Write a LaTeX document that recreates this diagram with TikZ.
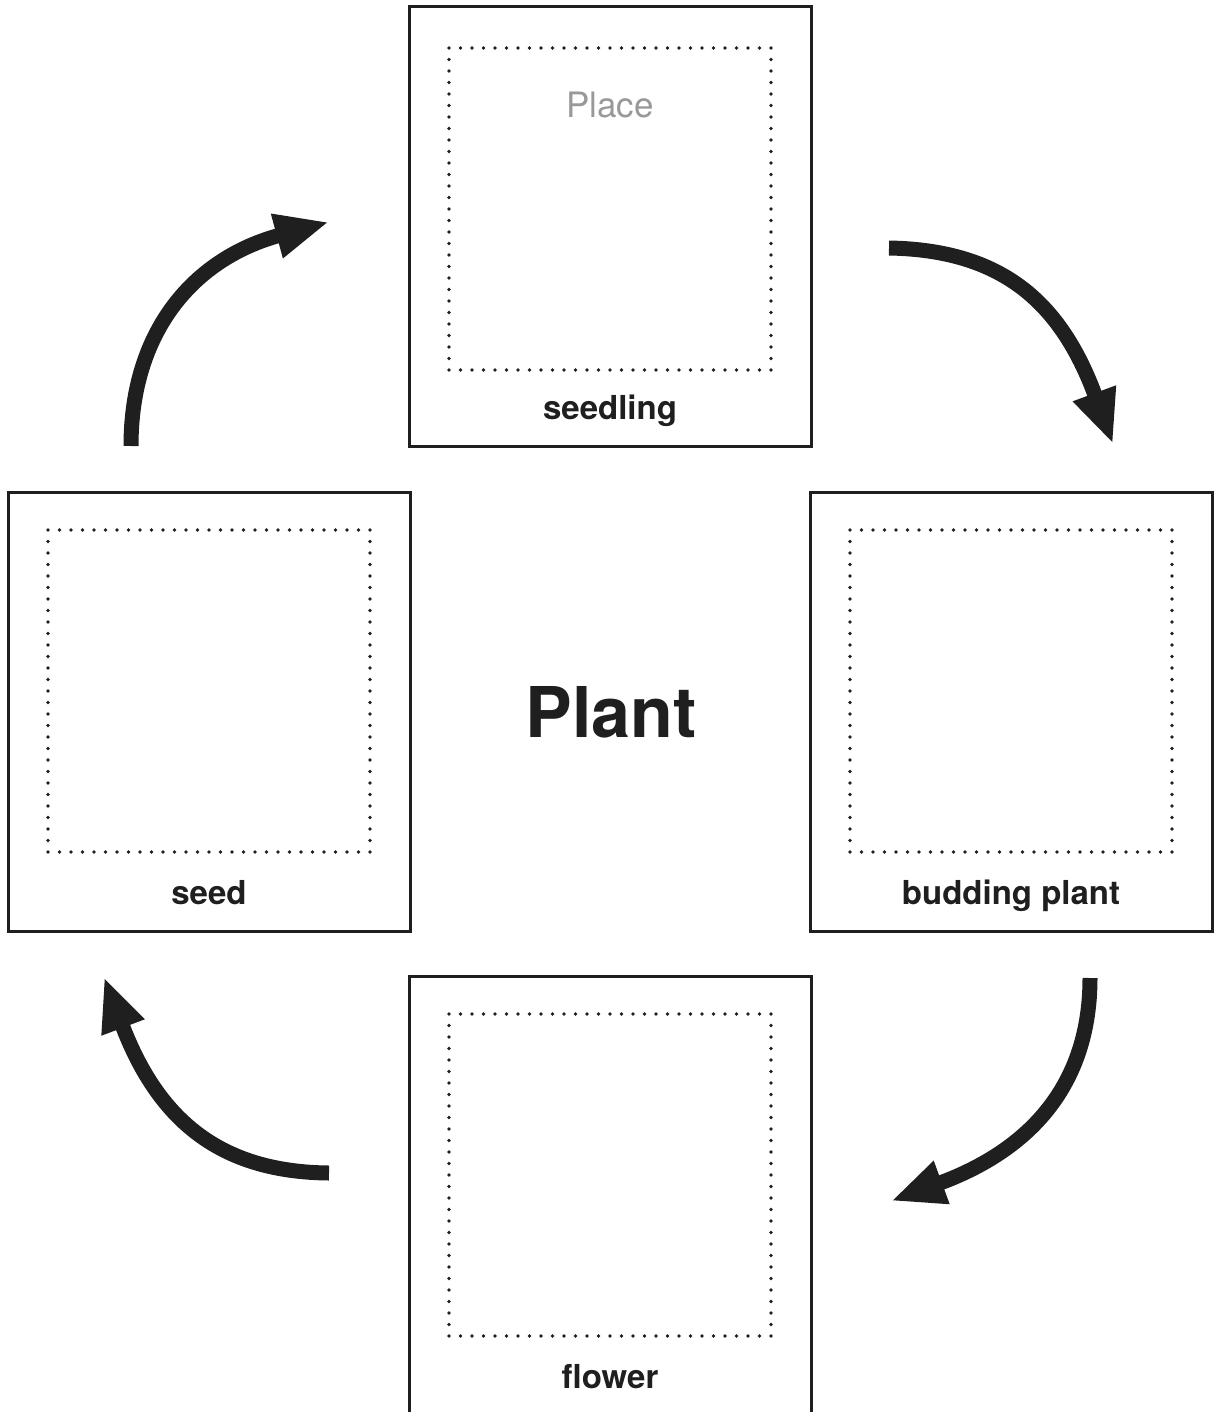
\documentclass[tikz,border=0pt]{standalone}
\usepackage{fontspec}
\setmainfont{TeX Gyre Heros}
\usetikzlibrary{arrows.meta}

\definecolor{ink}{HTML}{1F1F1F}
\definecolor{hintgray}{HTML}{999999}

\begin{document}
\begin{tikzpicture}[
    x=0.5pt, y=-0.5pt,
    stage/.style={rectangle, draw=ink, line width=1.5pt, minimum width=201pt, minimum height=219.5pt, outer sep=0pt, inner sep=0pt},
    slot/.style={rectangle, draw=ink, line width=1.9pt, line cap=round, dash pattern=on 0pt off 5.75pt, minimum width=161pt, minimum height=161pt, outer sep=0pt, inner sep=0pt, anchor=north},
    caption/.style={font=\bfseries\fontsize{16.5}{18}\selectfont, text=ink, anchor=base, inner sep=0pt},
    hint/.style={font=\fontsize{17.5}{20}\selectfont, text=hintgray, anchor=base, inner sep=0pt},
    flow/.style={draw=ink, line width=7.5pt, -{Triangle[length=27pt, width=21pt]}}
]
\useasboundingbox (0,0) rectangle (1215,1412);

% The four stages around the cycle
\node[stage] (seedling) at (610,226.5) {};
\node[stage] (seed) at (209,711.5) {};
\node[stage] (budding) at (1011,711.5) {};
\node[stage] (flower) at (610,1195.5) {};

% Dotted places for the pictures
\node[slot] (seedlingslot) at ([yshift=-20.5pt]seedling.north) {};
\node[slot] (seedslot) at ([yshift=-19pt]seed.north) {};
\node[slot] (buddingslot) at ([yshift=-19pt]budding.north) {};
\node[slot] (flowerslot) at ([yshift=-19pt]flower.north) {};

\node[hint] (place) at ([yshift=-35pt]seedlingslot.north) {Place};

% Stage names
\node[caption] (seedlingname) at ([yshift=13.5pt]seedling.south) {seedling};
\node[caption] (seedname) at ([yshift=13.5pt]seed.south) {seed};
\node[caption] (buddingname) at ([yshift=13.5pt]budding.south) {budding plant};
\node[caption] (flowername) at ([yshift=13.5pt]flower.south) {flower};

% Title in the middle
\node[font=\bfseries\fontsize{35}{40}\selectfont, text=ink, anchor=base, inner sep=0pt] (title) at (611,737) {Plant};

% Arrow ends
\coordinate (seedout) at (131,446);
\coordinate (seedlingin) at (329,222);
\coordinate (seedlingout) at (889,248);
\coordinate (buddingin) at (1113,444);
\coordinate (buddingout) at (1090,978);
\coordinate (flowerin) at (891,1201);
\coordinate (flowerout) at (329,1173);
\coordinate (seedin) at (104,977);

% Arrows
\draw[flow] (seedout) .. controls (131,330) and (195,258) .. (seedlingin);
\draw[flow] (seedlingout) .. controls (1000,250) and (1060,300) .. (buddingin);
\draw[flow] (buddingout) .. controls (1090,1085) and (1030,1150) .. (flowerin);
\draw[flow] (flowerout) .. controls (225,1172) and (160,1125) .. (seedin);

\end{tikzpicture}
\end{document}
